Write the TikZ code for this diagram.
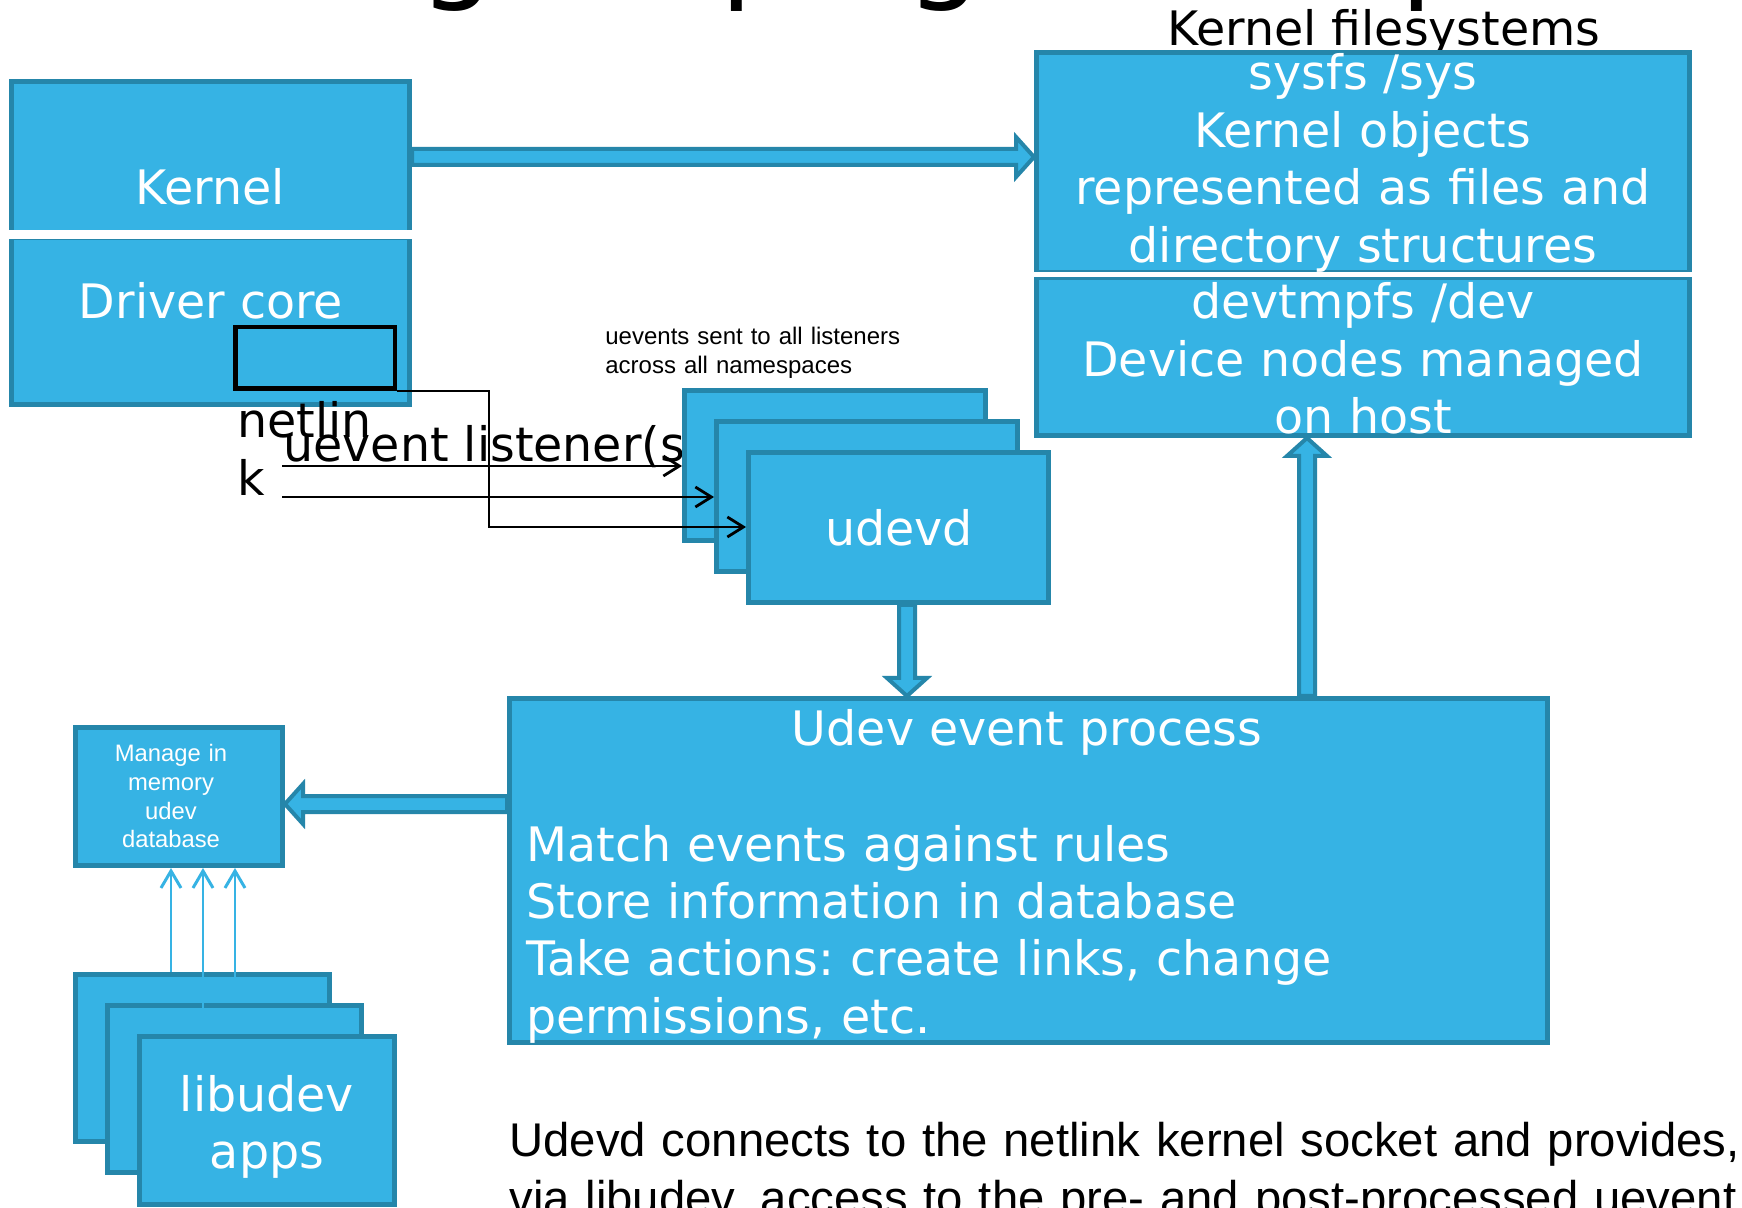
\documentclass[tikz,border=0pt]{standalone}
\usepackage{fontspec}
\setmainfont{DejaVu Sans}
\newfontfamily\arialf{Liberation Sans}
\usetikzlibrary{arrows.meta,calc,fit}
\definecolor{fillc}{RGB}{54,179,228}
\definecolor{bdr}{RGB}{37,134,170}
\frenchspacing
\tikzset{
  box/.style={draw=bdr, fill=fillc, line width=2.5pt, inner sep=0pt, outer sep=1.25pt},
  sockbox/.style={draw=black, line width=2.25pt, inner sep=0pt, outer sep=1.125pt},
  sepline/.style={draw=white, line width=4.5pt},
  septhin/.style={draw=white, line width=2.5pt},
  wtext/.style={text=white, inner sep=0pt, font=\fontsize{23.75pt}{28.7pt}\selectfont},
  btext/.style={text=black, inner sep=0pt, font=\fontsize{23.75pt}{28.7pt}\selectfont},
  stext/.style={text=black, inner sep=0pt, font=\arialf\fontsize{12pt}{14.5pt}\selectfont},
  mtext/.style={text=white, inner sep=0pt, font=\arialf\fontsize{11.9pt}{14.3pt}\selectfont},
  bottomtext/.style={text=black, inner sep=0pt, font=\arialf\fontsize{23.65pt}{29pt}\selectfont},
  titletext/.style={text=black, inner sep=0pt, font=\fontsize{60pt}{72pt}\selectfont},
  fat/.style={draw=bdr, fill=fillc, line width=2pt, line join=miter},
  tharrow/.style={draw=black, line width=1pt, -{Straight Barb[length=8pt,width=10pt,line width=1.4pt]}},
  barrow/.style={draw=fillc, line width=1pt, -{Straight Barb[length=8.5pt,width=10pt,line width=1.5pt]}}
}
\newcommand\fatarrow[2]{%
  \path[fat] let \p1=(#1), \p2=(#2), \p3=($(\p2)!9pt!(\p1)$) in
    ($(\p1)!4pt!90:(\p2)$) -- ($(\p3)!4pt!90:(\p2)$) -- ($(\p3)!10pt!90:(\p2)$) --
    (\p2) -- ($(\p3)!10pt!-90:(\p2)$) -- ($(\p3)!4pt!-90:(\p2)$) --
    ($(\p1)!4pt!-90:(\p2)$) -- cycle;%
}
\begin{document}
\begin{tikzpicture}[x=0.5pt, y=-0.5pt]
\useasboundingbox (0,0) rectangle (1742,1208);
\fill[white] (0,0) rectangle (1742,1208);

% title (cropped at the top)
\node[titletext, anchor=base west] (title) at (20,-13) {Existing\hspace{-5pt} hotplug event processing};
\node[btext, anchor=base] (kfs) at (1384,46) {Kernel filesystems};

% kernel / driver core
\node[box, fit={(11.5,81.5) (409.5,232.5)}] (kernel) {};
\node[box, fit={(11.5,237.5) (409.5,404.5)}] (driver) {};
\draw[sepline] (kernel.south west) -- (kernel.south east);
\node[wtext, anchor=base] (tkernel) at (210,205) {Kernel};
\node[wtext, anchor=base] (tdriver) at (211,319) {Driver core};
\node[sockbox, fit={(235.25,327.25) (394.75,388.75)}] (nl) {};

% texts near netlink
\node[btext, anchor=base west, text width=100pt, align=left] (tnet) at (237,438) {netlin\\k};
\node[btext, anchor=base west] (tlis) at (283,462) {uevent listener(s)};
\node[stext, anchor=base west, text width=200pt, align=left] (tue) at (605,345) {uevents sent to all listeners\\across all namespaces};

% udevd stack
\node[box, fit={(684.5,390.5) (985.5,540.5)}] (ud1) {};
\node[box, fit={(716.5,421.5) (1017.5,571.5)}] (ud2) {};
\node[box, fit={(748.5,452.5) (1048.5,602.5)}] (udevd) {};
\node[wtext, anchor=base] (tudevd) at (899,546) {udevd};

% thin arrows to udevd instances
\coordinate (s1) at (282,466);
\coordinate (s2) at (282,497);
\coordinate (bend) at (489,527);
\draw[tharrow] (s1) -- (s1 -| ud1.west);
\draw[tharrow] (s2) -- (s2 -| ud2.west);
\draw[tharrow] (nl.south east) -| (bend) -- (bend -| udevd.west);

% kernel filesystems
\node[box, fit={(1036.5,52.5) (1689.5,272.5)}] (sysfs) {};
\node[box, fit={(1036.5,277.5) (1689.5,435.5)}] (devtmpfs) {};
\draw[septhin] (sysfs.south west) -- (sysfs.south east);
\node[wtext, anchor=base, text width=340pt, align=center] (tsys) at (1363,90) {sysfs /sys\\Kernel objects\\represented as files and\\directory structures};
\node[wtext, anchor=base, text width=340pt, align=center] (tdev) at (1363,319) {devtmpfs /dev\\Device nodes managed\\on host};

% udev event process
\node[box, fit={(509.5,698.5) (1547.5,1042.5)}] (event) {};
\node[wtext, anchor=base] (tev) at (1027,746) {Udev event process};
\node[wtext, anchor=base west, text width=500pt, align=left] (tevl) at (526,861) {Match events against rules\\Store information in database\\Take actions: create links, change\\permissions, etc.};

% manage database
\node[box, fit={(75.5,727.5) (282.5,865.5)}] (manage) {};
\node[mtext, anchor=base, text width=120pt, align=center] (tman) at (171,762) {Manage in\\memory\\udev\\database};

% libudev apps stack
\node[box, fit={(75.5,974.5) (329.5,1141.5)}] (ap1) {};
\node[box, fit={(107.5,1005.5) (361.5,1172.5)}] (ap2) {};
\node[box, fit={(139.5,1036.5) (394.5,1204.5)}] (ap3) {};
\node[wtext, anchor=base, text width=150pt, align=center] (tapps) at (267,1111) {libudev\\apps};

\draw[barrow] (171,0 |- ap1.north) -- (171,0 |- manage.south);
\draw[barrow] (203,0 |- ap3.north) -- (203,0 |- manage.south);
\draw[barrow] (235,0 |- ap2.north) -- (235,0 |- manage.south);

% fat arrows
\fatarrow{kernel.east}{kernel.east -| sysfs.west}
\fatarrow{907,0 |- udevd.south}{907,0 |- event.north}
\fatarrow{1307,0 |- event.north}{1307,0 |- devtmpfs.south}
\fatarrow{event.west |- 0,804}{manage.east |- 0,804}

% bottom note
\node[bottomtext, anchor=base west, text width=700pt, align=left] (tbot) at (509,1156) {Udevd connects to the netlink kernel socket and provides,\\via libudev, access to the pre- and post-processed uevent};
\end{tikzpicture}
\end{document}
